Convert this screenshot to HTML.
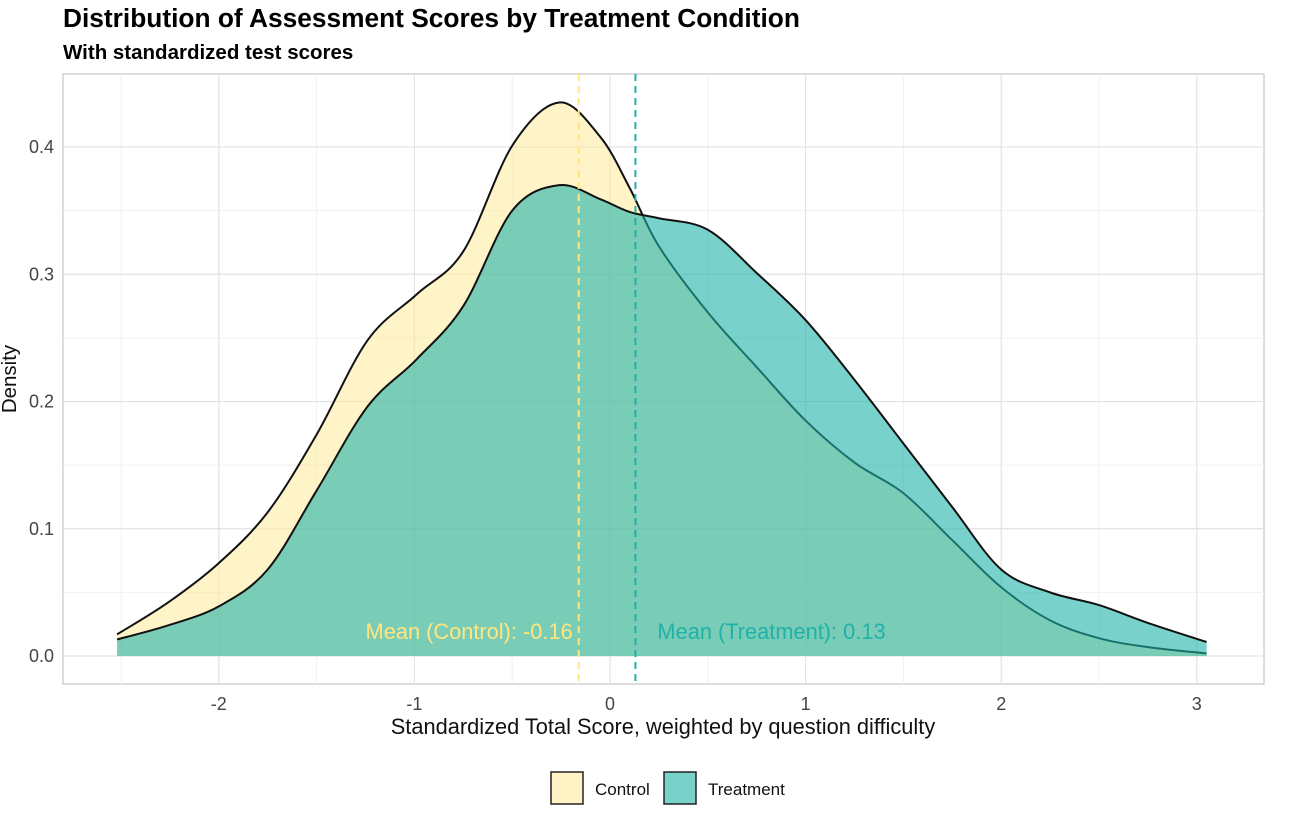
<!DOCTYPE html>
<html><head><meta charset="utf-8">
<style>
body{margin:0;background:#fff;font-family:"Liberation Sans",sans-serif;}
</style></head>
<body>
<svg id="chart" width="1292" height="817" xmlns="http://www.w3.org/2000/svg">
<text x="63" y="27" font-size="26.3" font-weight="bold" fill="#000">Distribution of Assessment Scores by Treatment Condition</text>
<text x="63" y="59" font-size="20.5" font-weight="bold" fill="#000">With standardized test scores</text>
<rect x="63" y="74" width="1201" height="610" fill="#fff" stroke="#bbb" stroke-width="1"/>
<g id="grid"></g>
<g id="marks"></g>
<g id="axes"></g>
<text x="663" y="734" font-size="21.8" text-anchor="middle" fill="#111">Standardized Total Score, weighted by question difficulty</text>
<text transform="translate(16,379) rotate(-90)" font-size="20.5" text-anchor="middle" fill="#111">Density</text>
<g>
<rect x="551" y="772" width="32" height="32" fill="#fff2c4" stroke="#222" stroke-width="1.5"/>
<text x="595" y="795" font-size="17" fill="#111">Control</text>
<rect x="664" y="772" width="32" height="32" fill="#79d1c9" stroke="#222" stroke-width="1.5"/>
<text x="708" y="795" font-size="17" fill="#111">Treatment</text>
</g>
</svg>
<script>
const xCategories=[-2.52,-2.26,-2,-1.75,-1.5,-1.24,-0.99,-0.75,-0.5,-0.26,-0.05,0.1,0.25,0.5,0.75,1,1.25,1.5,1.75,2,2.25,2.5,2.75,3.05];
const controlValues=[0.017,0.042,0.073,0.113,0.174,0.248,0.284,0.318,0.401,0.435,0.408,0.368,0.322,0.27,0.227,0.185,0.152,0.128,0.091,0.054,0.028,0.014,0.007,0.002];
const treatmentValues=[0.013,0.024,0.039,0.068,0.13,0.196,0.233,0.275,0.35,0.37,0.359,0.349,0.344,0.335,0.301,0.264,0.217,0.167,0.117,0.068,0.05,0.04,0.026,0.011];
const means=[-0.16,0.13];
const meanLabels=["Mean (Control): -0.16","Mean (Treatment): 0.13"];
const xTicks=[-2,-1,0,1,2,3];
const xMinor=[-2.5,-1.5,-0.5,0.5,1.5,2.5];
const yTicks=[0,0.1,0.2,0.3,0.4];
const yMinor=[0.05,0.15,0.25,0.35];
const yTickLabels=["0.0","0.1","0.2","0.3","0.4"];

const NS="http://www.w3.org/2000/svg";
const X=v=>610+v*195.6;
const Y=v=>656-v*1272.5;
function mk(tag,attrs,parent){const e=document.createElementNS(NS,tag);for(const k in attrs)e.setAttribute(k,attrs[k]);parent.appendChild(e);return e;}
const grid=document.getElementById('grid'),marks=document.getElementById('marks'),axes=document.getElementById('axes');
xMinor.forEach(v=>{const l=mk('line',{x1:X(v),x2:X(v),y1:74,y2:684,stroke:'#f0f0f0','stroke-width':1},grid);
});
yMinor.forEach(v=>{const l=mk('line',{x1:63,x2:1264,y1:Y(v),y2:Y(v),stroke:'#f0f0f0','stroke-width':1},grid);
});
xTicks.forEach(v=>{const l=mk('line',{x1:X(v),x2:X(v),y1:74,y2:684,stroke:'#e3e3e3','stroke-width':1.2},grid);

const t=mk('text',{x:X(v),y:710,'font-size':18,'text-anchor':'middle',fill:'#444'},axes);t.textContent=v;
});
yTicks.forEach((v,i)=>{const l=mk('line',{x1:63,x2:1264,y1:Y(v),y2:Y(v),stroke:'#e3e3e3','stroke-width':1.2},grid);

const t=mk('text',{x:54,y:Y(v)+6,'font-size':18,'text-anchor':'end',fill:'#444'},axes);t.textContent=yTickLabels[i];
});
function curve(vals){const p=xCategories.map((x,i)=>[X(x),Y(vals[i])]);let d=`M${p[0][0]},${p[0][1]}`;
for(let i=0;i<p.length-1;i++){const p0=p[Math.max(i-1,0)],p1=p[i],p2=p[i+1],p3=p[Math.min(i+2,p.length-1)];
d+=` C${p1[0]+(p2[0]-p0[0])/6},${p1[1]+(p2[1]-p0[1])/6} ${p2[0]-(p3[0]-p1[0])/6},${p2[1]-(p3[1]-p1[1])/6} ${p2[0]},${p2[1]}`;}return d;}
function area(vals,fill,op,name){const c=curve(vals);const x0=X(xCategories[0]),x1=X(xCategories[xCategories.length-1]);
const a=mk('path',{d:`${c} L${x1},${Y(0)} L${x0},${Y(0)} Z`,fill:fill,'fill-opacity':op,stroke:'none'},marks);

const l=mk('path',{d:c,fill:'none',stroke:'#111','stroke-width':2},marks);
}
area(controlValues,'#ffe99a',0.55,'control-density');
area(treatmentValues,'#20b2aa',0.6,'treatment-density');
const mColors=['#ffe680','#20b2aa'];
means.forEach((m,i)=>{const l=mk('line',{x1:X(m),x2:X(m),y1:74,y2:684,stroke:mColors[i],'stroke-width':2,'stroke-dasharray':'7,5'},marks);

const t=mk('text',{x:i?X(m)+22:X(m)-6,y:639,'font-size':21.8,'text-anchor':i?'start':'end',fill:mColors[i]},marks);t.textContent=meanLabels[i];
});
</script>
</body></html>
